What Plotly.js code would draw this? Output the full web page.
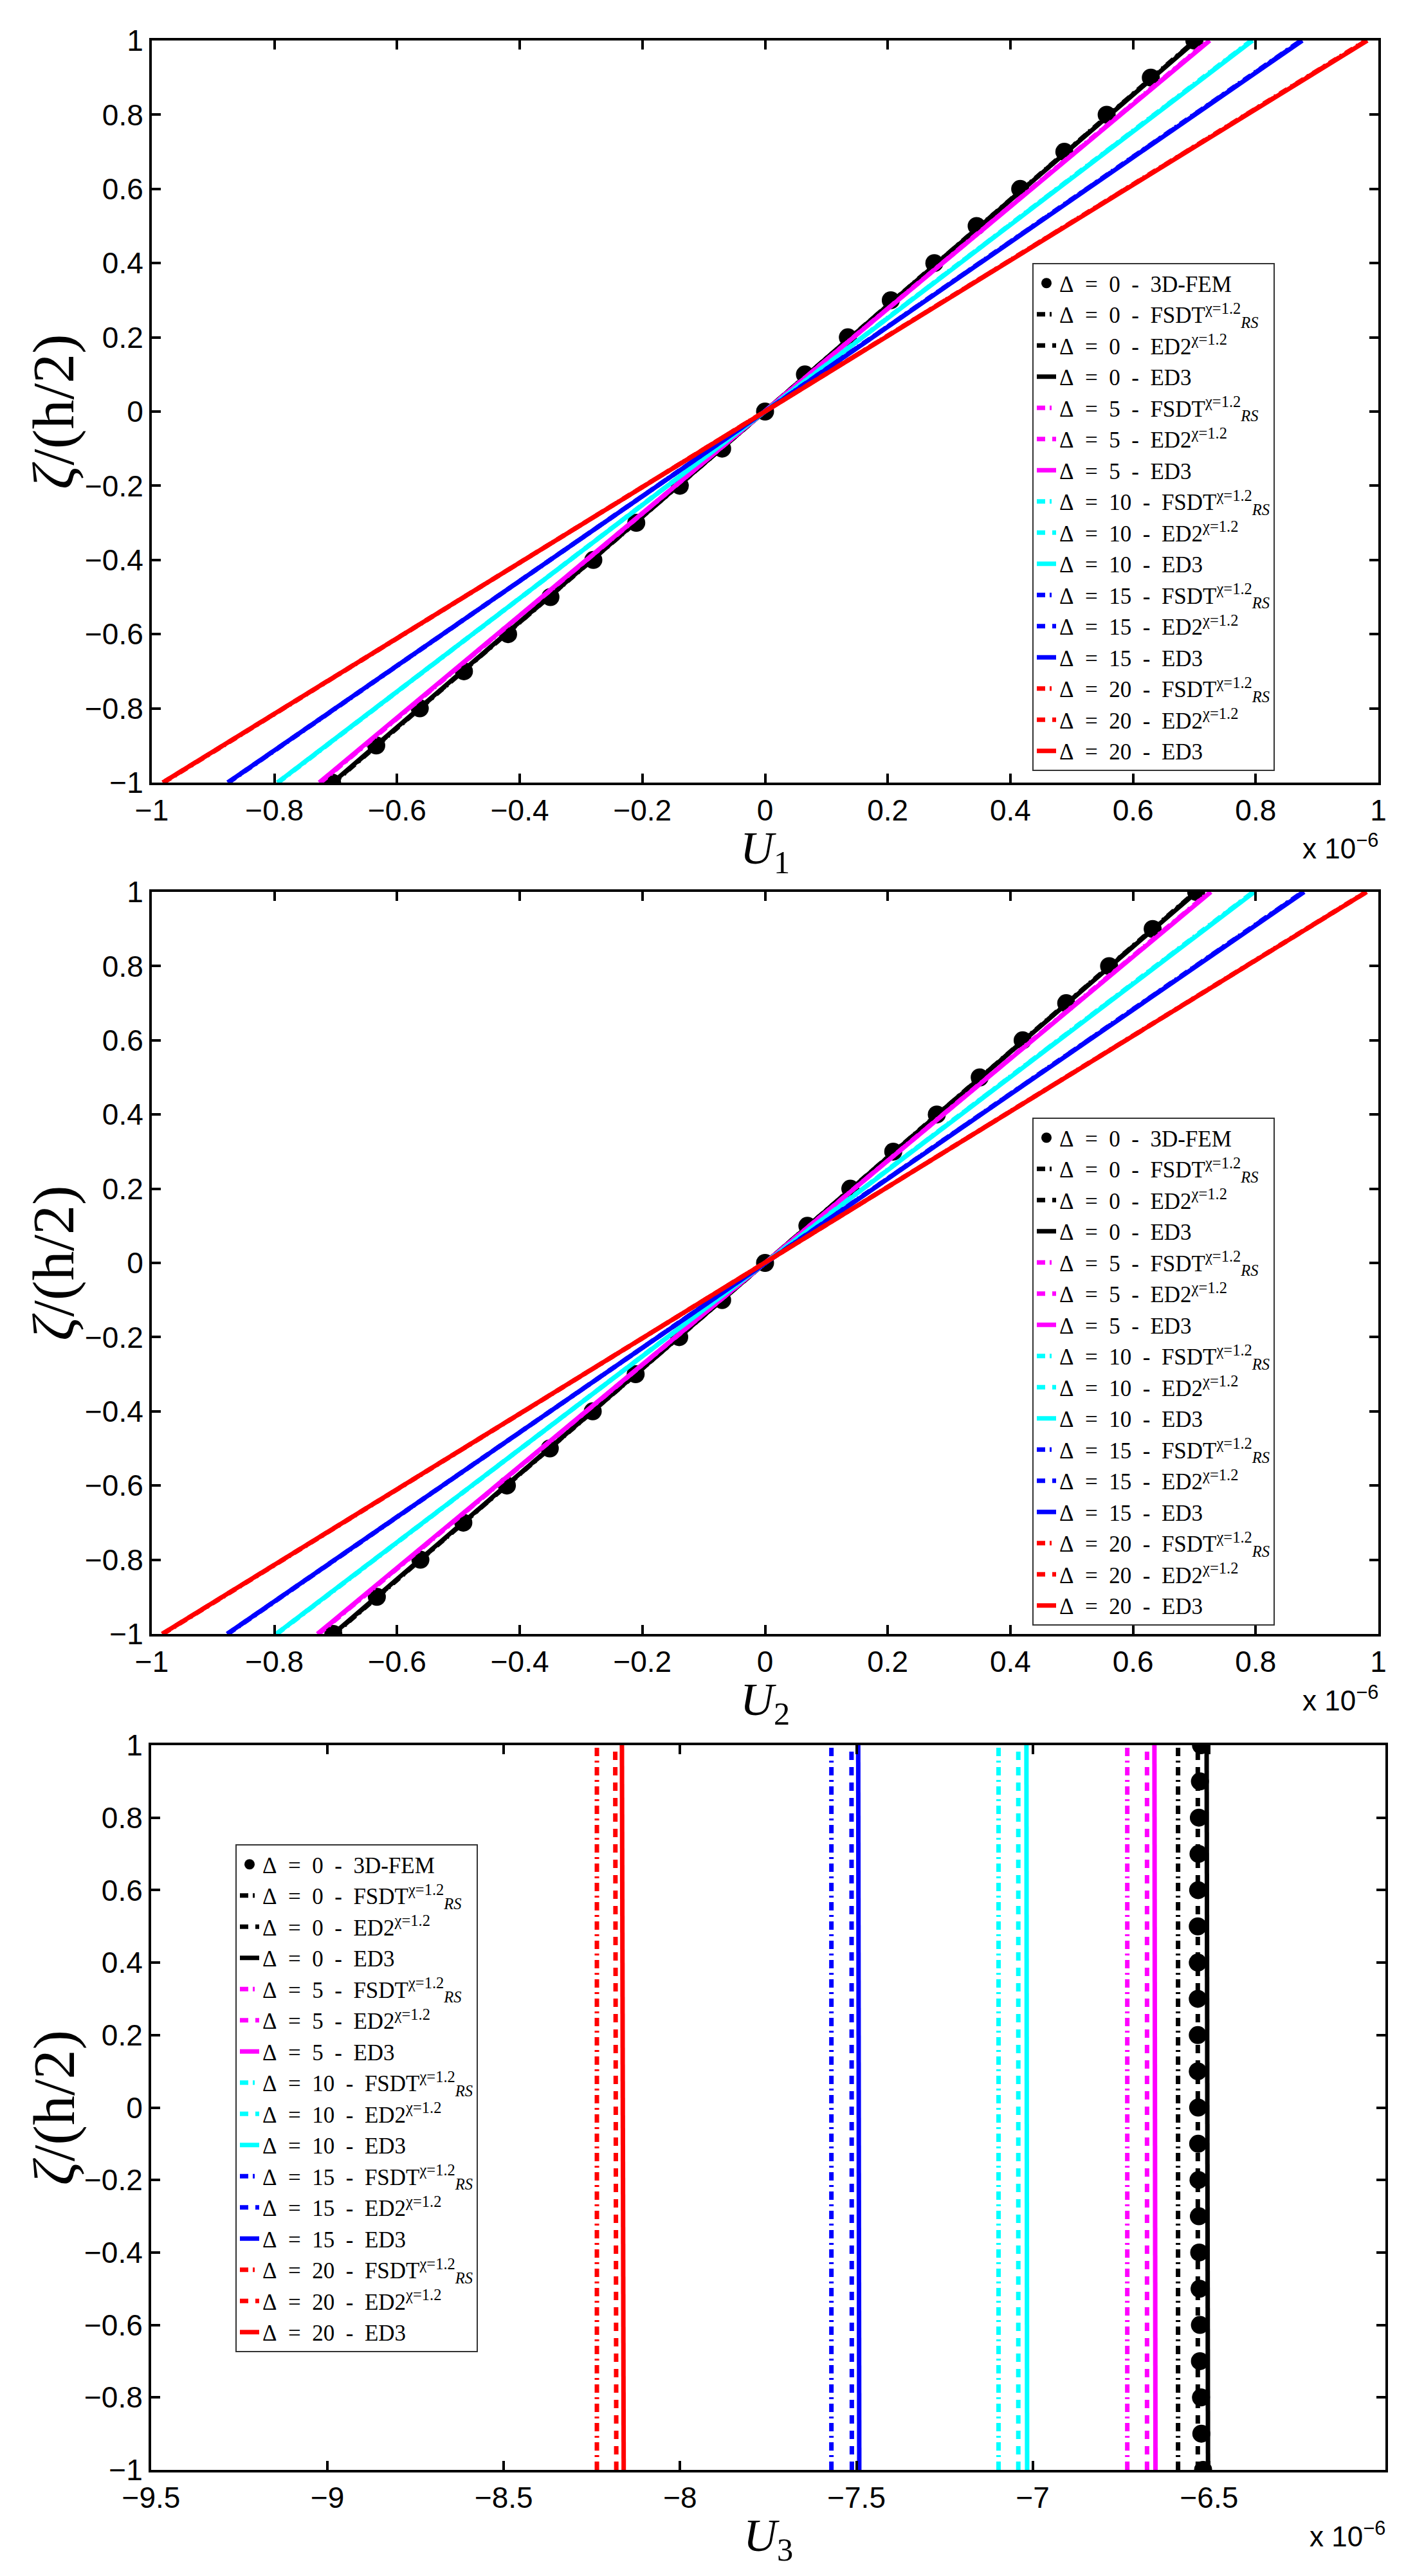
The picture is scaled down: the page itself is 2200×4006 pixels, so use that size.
<!DOCTYPE html>
<html>
<head>
<meta charset="utf-8">
<script src="https://cdn.plot.ly/plotly-3.0.1.min.js"></script>
<style>html,body{margin:0;padding:0;background:#fff}</style>
</head>
<body>
<div id="plot" style="width:2200px;height:4006px"></div>
<script>
// zeta/(h/2) at the line ends and at the 3D-FEM points
const zEnds = [-1, 0, 1]
const zFem = [-1, -0.9, -0.8, -0.7, -0.6, -0.5, -0.4, -0.3, -0.2, -0.1, 0,
              0.1, 0.2, 0.3, 0.4, 0.5, 0.6, 0.7, 0.8, 0.9, 1]
const deltas = [0, 5, 10, 15, 20]

// U1 (x 1e-6)
const u1Fem = [-0.706, -0.634, -0.563, -0.491, -0.419, -0.350, -0.280, -0.210, -0.139, -0.070, 0,
               0.065, 0.135, 0.205, 0.276, 0.345, 0.416, 0.488, 0.557, 0.629, 0.700]
const u1Fsdt = [[-0.703, 0, 0.701], [-0.725, 0, 0.723], [-0.794, 0, 0.793], [-0.875, 0, 0.874], [-0.981, 0, 0.980]]
const u1Ed2  = [[-0.704, 0, 0.702], [-0.726, 0, 0.724], [-0.795, 0, 0.794], [-0.876, 0, 0.875], [-0.982, 0, 0.981]]
const u1Ed3  = [[-0.705, 0, 0.703], [-0.727, 0, 0.725], [-0.795, 0, 0.795], [-0.876, 0, 0.876], [-0.982, 0, 0.982]]

// U2 (x 1e-6)
const u2Fem = [-0.704, -0.633, -0.562, -0.492, -0.421, -0.351, -0.281, -0.211, -0.140, -0.070, 0,
               0.069, 0.139, 0.209, 0.280, 0.350, 0.420, 0.491, 0.561, 0.632, 0.703]
const u2Fsdt = [[-0.702, 0, 0.702], [-0.728, 0, 0.725], [-0.796, 0, 0.796], [-0.876, 0, 0.877], [-0.982, 0, 0.980]]
const u2Ed2  = [[-0.703, 0, 0.703], [-0.729, 0, 0.726], [-0.797, 0, 0.797], [-0.877, 0, 0.878], [-0.983, 0, 0.981]]
const u2Ed3  = [[-0.704, 0, 0.704], [-0.730, 0, 0.727], [-0.797, 0, 0.798], [-0.877, 0, 0.879], [-0.983, 0, 0.981]]

// U3 (x 1e-6)
const u3Fem = [-6.517, -6.522, -6.523, -6.526, -6.526, -6.527, -6.528, -6.529, -6.530, -6.531, -6.531,
               -6.532, -6.532, -6.532, -6.532, -6.532, -6.531, -6.530, -6.529, -6.526, -6.523]
const u3Fsdt = [[-6.588, -6.588, -6.588], [-6.732, -6.732, -6.732], [-7.097, -7.097, -7.097], [-7.571, -7.571, -7.571], [-8.236, -8.236, -8.236]]
const u3Ed2  = [[-6.532, -6.532, -6.532], [-6.676, -6.676, -6.676], [-7.041, -7.041, -7.041], [-7.513, -7.514, -7.514], [-8.181, -8.183, -8.184]]
const u3Ed3  = [[-6.503, -6.505, -6.507], [-6.652, -6.654, -6.655], [-7.016, -7.017, -7.018], [-7.492, -7.494, -7.495], [-8.160, -8.163, -8.165]]

// tick labels
const zTicks = [-1, -0.8, -0.6, -0.4, -0.2, 0, 0.2, 0.4, 0.6, 0.8, 1]
const zTickText = ['\u22121', '\u22120.8', '\u22120.6', '\u22120.4', '\u22120.2', '0', '0.2', '0.4', '0.6', '0.8', '1']
const uTicks = [-1, -0.8, -0.6, -0.4, -0.2, 0, 0.2, 0.4, 0.6, 0.8, 1]
const uTickText = ['\u22121', '\u22120.8', '\u22120.6', '\u22120.4', '\u22120.2', '0', '0.2', '0.4', '0.6', '0.8', '1']
const u3Ticks = [-9.5, -9, -8.5, -8, -7.5, -7, -6.5]
const u3TickText = ['\u22129.5', '\u22129', '\u22128.5', '\u22128', '\u22127.5', '\u22127', '\u22126.5']

const colors = ['#000000', '#ff00ff', '#00ffff', '#0000ff', '#ff0000']
const dashDot = '13px,7px,3px,7px'
const dashed = '13px,11px'
const LW = 7
const sp = '\u2002'

function label(d, model) {
  return '\u0394' + sp + '=' + sp + d + sp + '-' + sp + model
}

function panelTraces(n, fem, fsdt, ed2, ed3) {
  const xa = n === 1 ? 'x' : 'x' + n
  const ya = n === 1 ? 'y' : 'y' + n
  const lg = n === 1 ? 'legend' : 'legend' + n
  const out = []
  out.push({
    x: fem, y: zFem, xaxis: xa, yaxis: ya, legend: lg,
    type: 'scatter', mode: 'markers',
    marker: {color: '#000', size: 28},
    name: label(0, '3D-FEM')
  })
  deltas.forEach(function (d, i) {
    out.push({
      x: fsdt[i], y: zEnds, xaxis: xa, yaxis: ya, legend: lg,
      type: 'scatter', mode: 'lines',
      line: {color: colors[i], width: LW, dash: dashDot},
      name: label(d, 'FSDT<sup>\u03c7=1.2</sup><sub><i>RS</i></sub>')
    })
    out.push({
      x: ed2[i], y: zEnds, xaxis: xa, yaxis: ya, legend: lg,
      type: 'scatter', mode: 'lines',
      line: {color: colors[i], width: LW, dash: dashed},
      name: label(d, 'ED2<sup>\u03c7=1.2</sup>')
    })
    out.push({
      x: ed3[i], y: zEnds, xaxis: xa, yaxis: ya, legend: lg,
      type: 'scatter', mode: 'lines',
      line: {color: colors[i], width: LW},
      name: label(d, 'ED3')
    })
  })
  return out
}

const data = [].concat(
  panelTraces(1, u1Fem, u1Fsdt, u1Ed2, u1Ed3),
  panelTraces(2, u2Fem, u2Fsdt, u2Ed2, u2Ed3),
  panelTraces(3, u3Fem, u3Fsdt, u3Ed2, u3Ed3)
)

const W = 2200, H = 4006
const px = v => v / W
const py = v => 1 - v / H

const tickFont = {family: 'Liberation Sans, Arial, sans-serif', size: 46, color: '#000'}
function axisBase(extra) {
  return Object.assign({
    showline: true, linecolor: '#000', linewidth: 4, mirror: 'ticks',
    ticks: 'inside', ticklen: 14, tickwidth: 4, tickcolor: '#000',
    showgrid: false, zeroline: false, tickfont: tickFont,
    tickmode: 'array', fixedrange: true
  }, extra)
}

// panel boxes in pixels: [left, right, top, bottom]
const boxes = [[236, 2143, 63, 1217], [236, 2143, 1387, 2541], [235, 2154, 2714, 3841]]

const legendFont = {family: 'Liberation Serif, Times New Roman, serif', size: 35, color: '#000'}
function legendAt(x, y, yanchor) {
  return {
    x: x, y: y, xanchor: 'left', yanchor: yanchor,
    bgcolor: '#fff', bordercolor: '#333', borderwidth: 2,
    font: legendFont, tracegroupgap: 0, itemwidth: 30
  }
}

const serif = 'Liberation Serif, Times New Roman, serif'
const annotations = []
const xNames = ['<i>U</i><sub>1</sub>', '<i>U</i><sub>2</sub>', '<i>U</i><sub>3</sub>']
boxes.forEach(function (b, i) {
  annotations.push({
    xref: 'paper', yref: 'paper', x: px(83), y: py((b[2] + b[3]) / 2),
    text: '<i>\u03b6</i>/(h/2)', textangle: -90, showarrow: false,
    xanchor: 'center', yanchor: 'middle', font: {family: serif, size: 92, color: '#000'}
  })
  annotations.push({
    xref: 'paper', yref: 'paper', x: px((b[0] + b[1]) / 2), y: py(b[3] + 60),
    text: xNames[i], showarrow: false,
    xanchor: 'center', yanchor: 'top', font: {family: serif, size: 72, color: '#000'}
  })
  annotations.push({
    xref: 'paper', yref: 'paper', x: px(b[1] + 2), y: py(b[3] + 100),
    text: 'x 10<sup>\u22126</sup>', showarrow: false,
    xanchor: 'right', yanchor: 'middle', font: {family: 'Liberation Sans, Arial, sans-serif', size: 44, color: '#000'}
  })
})

const layout = {
  width: W, height: H,
  margin: {l: 0, r: 0, t: 0, b: 0},
  paper_bgcolor: '#fff', plot_bgcolor: '#fff',
  xaxis: axisBase({domain: [px(boxes[0][0]), px(boxes[0][1])], range: [-1, 1], tickvals: uTicks, ticktext: uTickText, anchor: 'y'}),
  yaxis: axisBase({domain: [py(boxes[0][3]), py(boxes[0][2])], range: [-1, 1], tickvals: zTicks, ticktext: zTickText, anchor: 'x'}),
  xaxis2: axisBase({domain: [px(boxes[1][0]), px(boxes[1][1])], range: [-1, 1], tickvals: uTicks, ticktext: uTickText, anchor: 'y2'}),
  yaxis2: axisBase({domain: [py(boxes[1][3]), py(boxes[1][2])], range: [-1, 1], tickvals: zTicks, ticktext: zTickText, anchor: 'x2'}),
  xaxis3: axisBase({domain: [px(boxes[2][0]), px(boxes[2][1])], range: [-9.5, -6], tickvals: u3Ticks, ticktext: u3TickText, anchor: 'y3'}),
  yaxis3: axisBase({domain: [py(boxes[2][3]), py(boxes[2][2])], range: [-1, 1], tickvals: zTicks, ticktext: zTickText, anchor: 'x3'}),
  legend: legendAt(px(1605), py(1199), 'bottom'),
  legend2: legendAt(px(1605), py(2528), 'bottom'),
  legend3: legendAt(px(366), py(2868), 'top'),
  annotations: annotations,
  showlegend: true
}

Plotly.newPlot('plot', data, layout, {staticPlot: true})
</script>
</body>
</html>
